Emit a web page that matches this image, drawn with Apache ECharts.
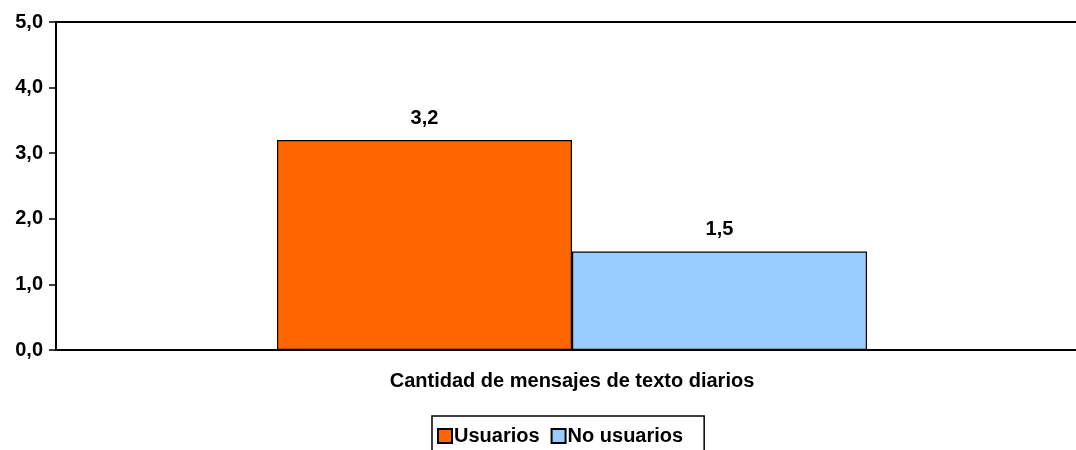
<!DOCTYPE html>
<html><head><meta charset="utf-8">
<script src="https://cdn.jsdelivr.net/npm/echarts@6/dist/echarts.min.js"></script>
<style>html,body{margin:0;padding:0;background:#fff}#c{width:1076px;height:450px}</style>
</head><body><div id="c"></div>
<script>
const categories = ["Cantidad de mensajes de texto diarios"];
const seriesNames = ["Usuarios", "No usuarios"];
const usuarios = [3.2];
const noUsuarios = [1.5];
const yTicks = {min: 0, max: 5, interval: 1};

const chart = echarts.init(document.getElementById('c'));
const font = 'Liberation Sans, Arial, sans-serif';
const fmt = v => v.toFixed(1).replace('.', ',');
const lbl = {show: true, position: 'top', distance: 12, formatter: p => fmt(p.value), fontFamily: font, fontWeight: 'bold', fontSize: 20, color: '#000'};
chart.setOption({
  animation: false,
  grid: [
    {left: 56, right: 0, top: 22, bottom: 100, containLabel: false},
    {left: 68, right: 0, top: 22, bottom: 100, containLabel: false}
  ],
  legend: {
    top: 416, left: 432,
    data: seriesNames,
    itemWidth: 14, itemHeight: 14, itemGap: 11,
    padding: [10, 21, 20, 5],
    borderColor: '#000', borderWidth: 1.5,
    icon: 'rect',
    textStyle: {fontFamily: font, fontWeight: 'bold', fontSize: 20, color: '#000', padding: [0, 0, 0, -3]}
  },
  xAxis: [{
    gridIndex: 0, type: 'category', data: categories,
    axisLine: {lineStyle: {color: '#000', width: 2}},
    axisTick: {show: false}, axisLabel: {show: false}
  }, {
    gridIndex: 0, type: 'category', data: categories, position: 'top',
    axisLine: {show: true, lineStyle: {color: '#000', width: 2}},
    axisTick: {show: false}, axisLabel: {show: false}
  }, {
    gridIndex: 1, type: 'category', data: categories,
    axisLine: {show: false}, axisTick: {show: false},
    axisLabel: {fontFamily: font, fontWeight: 'bold', fontSize: 20, color: '#000', margin: 21}
  }],
  yAxis: [{
    gridIndex: 0, type: 'value', min: yTicks.min, max: yTicks.max, interval: yTicks.interval,
    axisLine: {show: true, lineStyle: {color: '#000', width: 2}},
    axisTick: {show: true, length: 7, lineStyle: {color: '#000', width: 1.5}},
    splitLine: {show: false},
    axisLabel: {formatter: fmt, fontFamily: font, fontWeight: 'bold', fontSize: 20, color: '#000', margin: 13}
  }, {
    gridIndex: 1, type: 'value', min: yTicks.min, max: yTicks.max, interval: yTicks.interval,
    axisLine: {show: false}, axisTick: {show: false}, axisLabel: {show: false}, splitLine: {show: false}
  }],
  series: [
    {name: seriesNames[0], type: 'bar', xAxisIndex: 2, yAxisIndex: 1, data: usuarios, barWidth: 295, barGap: 0,
     itemStyle: {color: '#FF6600', borderColor: '#000', borderWidth: 1.2}, label: lbl},
    {name: seriesNames[1], type: 'bar', xAxisIndex: 2, yAxisIndex: 1, data: noUsuarios, barWidth: 295, barGap: 0,
     itemStyle: {color: '#99CCFF', borderColor: '#000', borderWidth: 1.2}, label: lbl}
  ]
});
</script></body></html>
